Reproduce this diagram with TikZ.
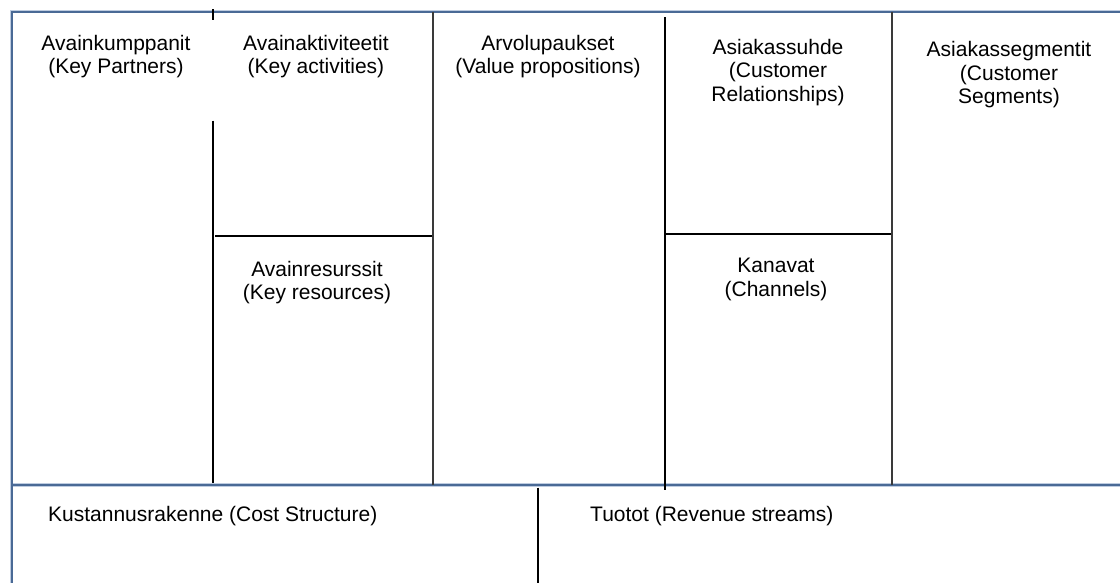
\documentclass[tikz,border=0pt]{standalone}
\usepackage{fontspec}
\setmainfont{Liberation Sans}
\definecolor{framecol}{RGB}{74,106,150}
\definecolor{framehalo}{RGB}{190,204,224}
\definecolor{darkrule}{RGB}{58,58,58}
\newcommand\firststrut{\rule{0pt}{16pt}}
\tikzset{
  frameline/.style={draw=framecol, line width=1.6pt},
  halo/.style={draw=framehalo, line width=3.2pt},
  rule/.style={draw=black, line width=1.8pt},
  greyrule/.style={draw=darkrule, line width=2.3pt},
  lbl/.style={inner sep=0pt, anchor=north, align=center,
    font=\fontsize{21}{23.5}\selectfont},
  lbll/.style={lbl, anchor=north west, align=left}
}
\begin{document}
\begin{tikzpicture}[x=1pt,y=-1pt]
  \useasboundingbox (0,0) rectangle (1120,582);
  % outer frame (open on the right and at the bottom)
  \draw[halo] (11.7,590) -- (11.7,11.7) -- (1130,11.7);
  \draw[halo] (11.7,485) -- (1130,485);
  \draw[frameline] (11.7,590) -- (11.7,11.7) -- (1130,11.7);
  \draw[frameline] (11.7,485) -- (1130,485);
  % partners / activities divider
  \draw[rule] (212.8,9.3) -- (212.8,20);
  \draw[rule] (212.8,120.7) -- (212.8,483);
  \draw[rule] (215.3,235.6) -- (433,235.6);
  % value propositions borders
  \draw[greyrule] (433,11.7) -- (433,485);
  \draw[rule] (664.7,17) -- (664.7,490);
  \draw[rule] (664.7,234.3) -- (891.7,234.3);
  \draw[greyrule] (891.7,11.7) -- (891.7,485);
  % cost / revenue divider
  \draw[rule] (537.7,487.7) -- (537.7,590);

  % block titles
  \node[lbl] (kp) at (116,34) {\firststrut Avainkumppanit\\(Key Partners)};
  \node[lbl] (ka) at (316,34) {\firststrut Avainaktiviteetit\\(Key activities)};
  \node[lbl] (vp) at (548,34) {\firststrut Arvolupaukset\\(Value propositions)};
  \node[lbl] (cr) at (778,38) {\firststrut Asiakassuhde\\(Customer\\Relationships)};
  \node[lbl] (cs) at (1009,40.7) {\firststrut Asiakassegmentit\\(Customer\\Segments)};
  \node[lbl] (kr) at (317,260) {\firststrut Avainresurssit\\(Key resources)};
  \node[lbl] (ch) at (776,256.3) {\firststrut Kanavat\\(Channels)};
  \node[lbll] (cost) at (48,505) {\firststrut Kustannusrakenne (Cost Structure)};
  \node[lbll] (rev) at (590,505) {\firststrut Tuotot (Revenue streams)};
\end{tikzpicture}
\end{document}
